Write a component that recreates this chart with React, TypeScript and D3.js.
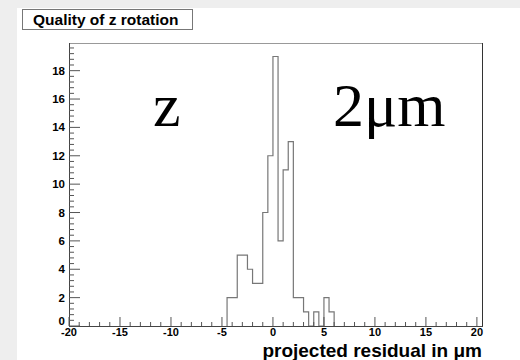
import React from "react";
import * as d3 from "d3";

const binStart = -4.5;
const binWidth = 0.5;
const counts = [2, 2, 5, 5, 4, 3, 3, 8, 12, 19, 6, 11, 13, 2, 2, 1, 0, 1, 0, 2, 1];
const xMajorTicks = [-20, -15, -10, -5, 0, 5, 10, 15, 20];
const yMajorTicks = [0, 2, 4, 6, 8, 10, 12, 14, 16, 18];
const titleText = "Quality of z rotation";
const xTitle = "projected residual in \u03bcm";
const leftLabel = "z";
const rightLabel = "2\u03bcm";

export default function App() {
  const W = 520, H = 360;
  const x = d3.scaleLinear().domain([-20, 20.5]).range([69, 482]);
  const y = d3.scaleLinear().domain([0, 19.95]).range([326, 43]);
  const xMinor = d3.range(-20, 20.001, 1);
  const yMinor = d3.range(0, 19.9, 0.4);

  let path = `M${x(binStart)},${y(0)}`;
  counts.forEach((c, i) => {
    const x0 = binStart + i * binWidth;
    const x1 = x0 + binWidth;
    path += `L${x(x0)},${y(c)}L${x(x1)},${y(c)}`;
  });
  path += `L${x(binStart + counts.length * binWidth)},${y(0)}`;

  const sans = "'Liberation Sans', Arial, Helvetica, sans-serif";
  const serif = "'Liberation Serif', 'Times New Roman', serif";
  return (
    <svg width={W} height={H} style={{ position: "absolute", left: 0, top: 0 }}>
      <rect x={0} y={0} width={W} height={H} fill="#eeeeee" />
      <rect x={17} y={8} width={W - 17} height={H - 8} fill="#ffffff" />
      <rect x={22.5} y={9.5} width={170} height={20} fill="#fff" stroke="#777" strokeWidth={1} />
      <text x={33} y={25} fontFamily={sans} fontWeight="bold" fontSize={15.5} fill="#000">{titleText}</text>
      <line x1={69} y1={43.5} x2={482} y2={43.5} stroke="#999" />
      <line x1={482.5} y1={43} x2={482.5} y2={326} stroke="#333" />
      <path d={path} fill="none" stroke="#777" strokeWidth={1.2} />
      <line x1={69.5} y1={43} x2={69.5} y2={326.5} stroke="#444" />
      <line x1={69} y1={326.5} x2={483} y2={326.5} stroke="#444" />
      {xMinor.map((v) => (
        <line key={"xm" + v} x1={x(v)} x2={x(v)} y1={326} y2={xMajorTicks.includes(v) ? 317 : 322} stroke="#555" />
      ))}
      {yMinor.map((v, i) => (
        <line key={"ym" + i} x1={69} x2={i % 5 === 0 ? 80 : 74} y1={y(v)} y2={y(v)} stroke="#555" />
      ))}
      {xMajorTicks.map((v) => (
        <text key={"xl" + v} x={x(v)} y={336} textAnchor="middle" fontFamily={sans} fontWeight="bold" fontSize={11} fill="#000">{v}</text>
      ))}
      {yMajorTicks.map((v) => (
        <text key={"yl" + v} x={65} y={y(v) + (v === 0 ? -1 : 4)} textAnchor="end" fontFamily={sans} fontWeight="bold" fontSize={11.5} fill="#000">{v}</text>
      ))}
      <text x={482} y={357} textAnchor="end" fontFamily={sans} fontWeight="bold" fontSize={19} fill="#000">{xTitle}</text>
      <text x={153} y={126} fontFamily={serif} fontSize={62} fill="#000">{leftLabel}</text>
      <text x={333} y={126} fontFamily={serif} fontSize={62} fill="#000">{rightLabel}</text>
    </svg>
  );
}
